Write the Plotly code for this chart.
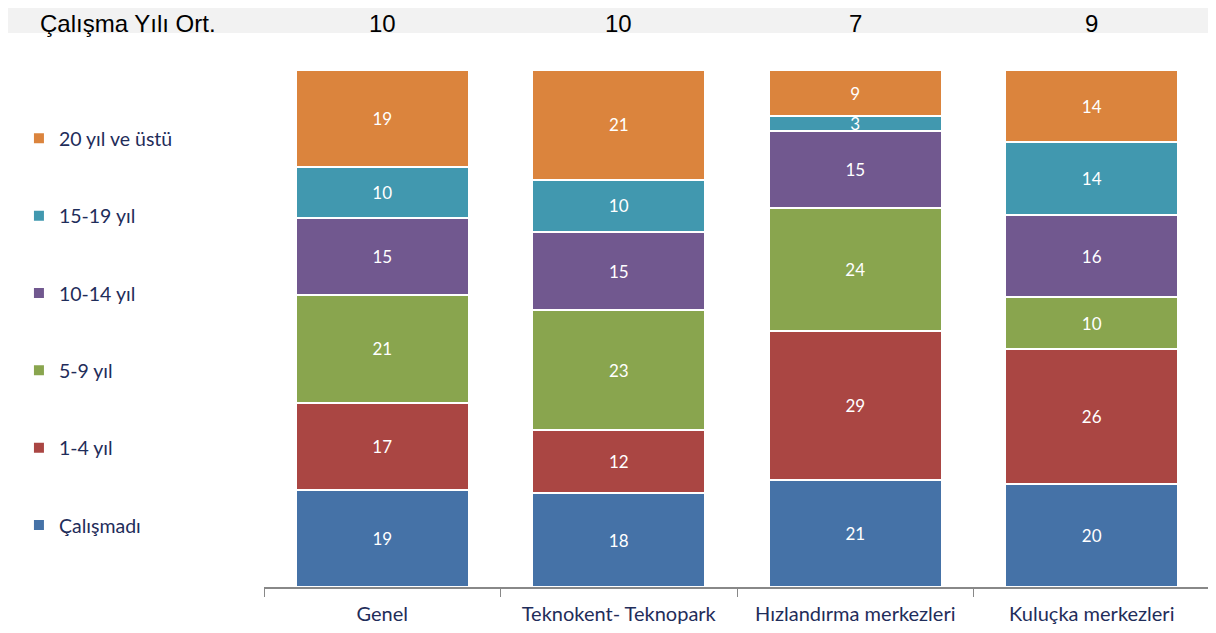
import plotly.graph_objects as go

# data
categories = ["Genel", "Teknokent- Teknopark", "Hızlandırma merkezleri", "Kuluçka merkezleri"]
avg_years = [10, 10, 7, 9]

series_names = ["Çalışmadı", "1-4 yıl", "5-9 yıl", "10-14 yıl", "15-19 yıl", "20 yıl ve üstü"]
calismadi = [19, 18, 21, 20]
yil_1_4 = [17, 12, 29, 26]
yil_5_9 = [21, 23, 24, 10]
yil_10_14 = [15, 15, 15, 16]
yil_15_19 = [10, 10, 3, 14]
yil_20_plus = [19, 21, 9, 14]
series_values = [calismadi, yil_1_4, yil_5_9, yil_10_14, yil_15_19, yil_20_plus]

colors = ["#4572A7", "#AA4643", "#89A54E", "#71588F", "#4198AF", "#DB843D"]
navy = "#1F2D5A"

fig = go.Figure()
for i, (name, vals) in enumerate(zip(series_names, series_values)):
    fig.add_trace(go.Bar(
        x=categories,
        y=vals,
        name=name,
        legendgroup=name,
        legendrank=len(series_names) - i,
        text=vals,
        texttemplate="%{text}",
        textposition="inside",
        insidetextanchor="middle",
        constraintext="none",
        textangle=0,
        textfont=dict(color="white", size=17, family="Lato"),
        marker=dict(color=colors[i], line=dict(color="white", width=2)),
        hoverinfo="skip",
    ))

# grey header band with averages
fig.add_shape(type="rect", xref="paper", yref="paper",
              x0=-0.28, x1=1.0063, y0=1.0716, y1=1.14,
              fillcolor="#F2F2F2", line_width=0, layer="below")
fig.add_annotation(text="Çalışma Yılı Ort.", xref="paper", yref="paper",
                   x=-0.2385, y=1.119, xanchor="left", yanchor="top",
                   showarrow=False, font=dict(family="Arial", size=24, color="black"))
for cat, v in zip(categories, avg_years):
    fig.add_annotation(text=str(v), xref="x", yref="paper", x=cat, y=1.119,
                       yanchor="top", showarrow=False,
                       font=dict(family="Arial", size=24, color="black"))

fig.update_layout(
    barmode="stack",
    barnorm="percent",
    bargap=0.27,
    width=1216,
    height=633,
    plot_bgcolor="white",
    paper_bgcolor="white",
    margin=dict(l=256, r=14, t=62, b=54),
    font=dict(family="Lato", color=navy),
    legend=dict(
        xref="container", x=0.009, xanchor="left",
        y=0.905, yanchor="top",
        traceorder="grouped",
        tracegroupgap=49,
        font=dict(size=19.5, color=navy, family="Lato"),
        itemwidth=30,
    ),
    xaxis=dict(
        showline=True, linecolor="#888888", linewidth=1.5,
        ticks="outside", tickson="boundaries", ticklen=8, tickcolor="#888888",
        ticklabelstandoff=8,
        tickfont=dict(size=20, color=navy, family="Lato"),
    ),
    yaxis=dict(range=[0, 100], visible=False),
)

fig.write_html("out.html")
